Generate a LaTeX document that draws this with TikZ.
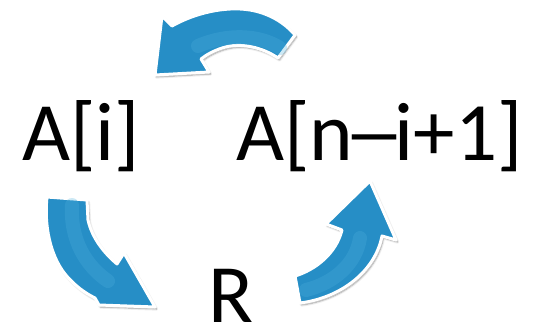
\documentclass[tikz,border=0pt]{standalone}
\usepackage{fontspec}
\setmainfont{Carlito}
\usepackage{graphicx}
\usetikzlibrary{shadows.blur}
\definecolor{arrowblue}{RGB}{38,142,198}
\definecolor{arrowlight}{RGB}{78,176,220}
\tikzset{
  arrowshape/.style={fill=arrowblue, draw=white, line width=3pt, line join=round,
    blur shadow={shadow xshift=1.5pt, shadow yshift=-2pt, shadow blur steps=8, shadow opacity=40}},
  highlight/.style={draw=arrowlight, line width=14pt, line cap=round, opacity=0.28},
  label/.style={anchor=base west, inner sep=0pt, font=\fontsize{83}{90}\selectfont}
}
\begin{document}
\begin{tikzpicture}[x=1pt,y=-1pt]
\useasboundingbox (0,0) rectangle (537,327);
% top arrow (points left)
\path[arrowshape] (162,16) -- (172,26)
  .. controls (195,13) and (225,6) .. (250,10)
  .. controls (268,13) and (284,22) .. (295,35)
  -- (278,58)
  .. controls (262,47) and (240,42) .. (222,48)
  .. controls (213,51) and (206,55) .. (201,59)
  -- (209,72) -- (155,75) -- cycle;
\path[highlight] (280,48) .. controls (260,35) and (228,33) .. (198,46);
% left arrow (points down-right)
\path[arrowshape] (47,197)
  .. controls (44,225) and (50,255) .. (65,274)
  .. controls (75,286) and (85,293) .. (95,298)
  -- (99,305) -- (155,307) -- (124,253) -- (117,264)
  .. controls (104,253) and (92,238) .. (88,220)
  -- (87,200) -- cycle;
\path[highlight] (72,205) .. controls (70,240) and (86,266) .. (108,281);
% right arrow (points up)
\path[arrowshape] (295,276)
  .. controls (315,270) and (336,254) .. (342,230)
  -- (326,224) -- (370,181) -- (396,240) -- (382,236)
  .. controls (375,272) and (340,298) .. (300,303)
  -- cycle;
\path[highlight] (306,290) .. controls (334,283) and (356,264) .. (360,238);
\node[label] (ai) at (22,160) {A[i]};
\node[label] (ani) at (236,160) {A[n\makebox[0.5em][c]{\scalebox{1.5}[1]{–}}i+1]};
\node[label] (r) at (208,322) {R};
\end{tikzpicture}
\end{document}
